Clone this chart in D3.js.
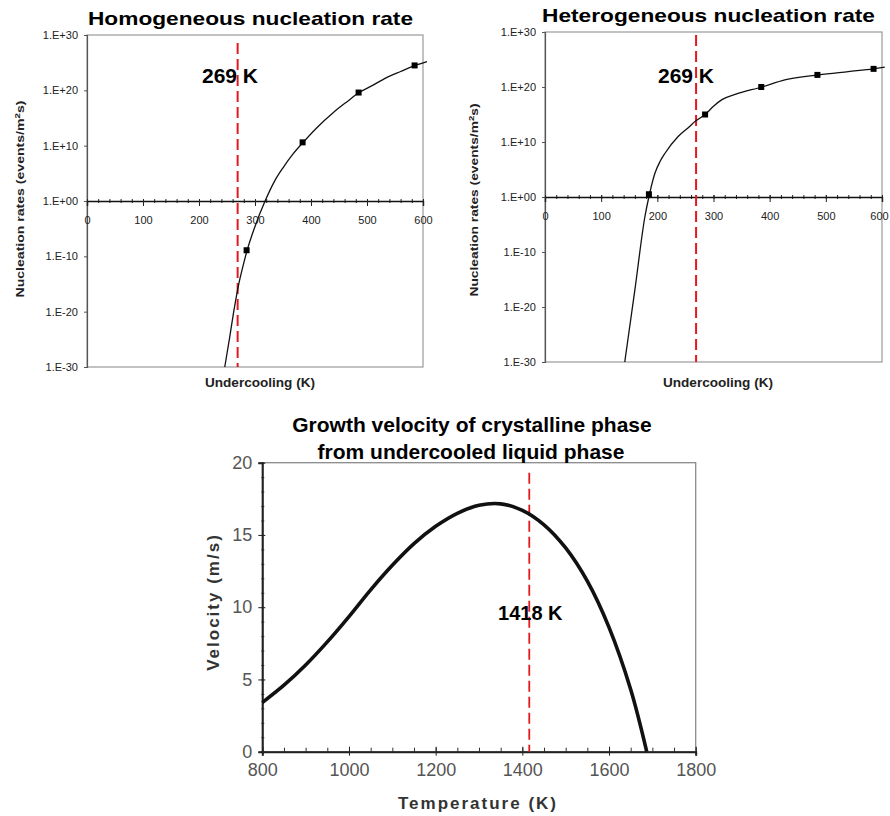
<!DOCTYPE html>
<html><head><meta charset="utf-8">
<script src="https://cdn.jsdelivr.net/npm/d3@7"></script>
<style>body{margin:0;background:#fff}svg{display:block}text{font-family:"Liberation Sans",Arial,sans-serif}</style>
</head><body><svg id="c" width="890" height="816"></svg>
<script>
// ---------- DATA ----------
const nucTickExps = [-30, -20, -10, 0, 10, 20, 30];
const nucTickLabels = ["1.E-30", "1.E-20", "1.E-10", "1.E+00", "1.E+10", "1.E+20", "1.E+30"];
const undercoolTicks = [0, 100, 200, 300, 400, 500, 600];
const markerUndercooling = 269;
const markerLabel = "269 K";

// homogeneous: undercooling (K), log10 rate
const homCurveX = [246, 255, 262, 270, 278, 286, 300, 318, 335, 350, 368, 386, 410, 440, 465, 486, 510, 535, 560, 586, 607];
const homCurveLog = [-30, -24.5, -20, -15.5, -12, -8.9, -4.6, 0, 3.6, 6, 8.5, 10.6, 13.2, 16, 18, 19.6, 20.9, 22.3, 23.4, 24.5, 25.2];
const homPointX = [285, 385, 485, 585];
const homPointLog = [-8.9, 10.6, 19.6, 24.5];

// heterogeneous
const hetCurveX = [142, 160, 178, 186, 196, 205, 214, 237, 255, 268, 285, 300, 315, 340, 386, 427, 487, 540, 585, 605];
const hetCurveLog = [-30, -16.9, -3.5, 0.5, 4.4, 6.5, 8, 11, 12.6, 13.8, 15, 16.5, 17.7, 18.7, 20, 21.3, 22.2, 22.8, 23.3, 23.6];
const hetPointX = [185, 285, 385, 485, 585];
const hetPointLog = [0.5, 15, 20, 22.2, 23.3];

// growth velocity
const tempValues = [800, 850, 900, 950, 1000, 1050, 1100, 1150, 1200, 1250, 1300, 1350, 1400, 1450, 1500, 1550, 1600, 1650, 1687];
const velValues = [3.4, 4.6, 6.0, 7.6, 9.35, 11.2, 12.9, 14.4, 15.6, 16.5, 17.05, 17.15, 16.7, 15.7, 14.1, 11.8, 8.6, 4.3, 0];
const tempTicks = [800, 1000, 1200, 1400, 1600, 1800];
const velTicks = [0, 5, 10, 15, 20];
const tempMarker = 1416;
const tempMarkerLabel = "1418 K";

// ---------- DRAW ----------
const svg = d3.select("#c");
svg.append("rect").attr("width", 890).attr("height", 816).attr("fill", "#fff");
const RED = "#e3191f";
const FF = '"Liberation Sans",Arial,sans-serif';

function nucChart(o) {
  const g = svg.append("g");
  const x = d3.scaleLinear().domain([0, 600]).range([o.x0, o.x1]);
  const y = d3.scaleLog().domain([1e-30, 1e30]).range([o.y1, o.y0]);
  g.append("rect").attr("x", o.x0).attr("y", o.y0).attr("width", o.x1 - o.x0).attr("height", o.y1 - o.y0)
    .attr("fill", "none").attr("stroke", "#9a9a9a").attr("stroke-width", 1.2);
  const ya = g.append("g").attr("transform", `translate(${o.x0},0)`)
    .call(d3.axisLeft(y).tickValues(nucTickExps.map(e => Math.pow(10, e)))
      .tickFormat((d, i) => nucTickLabels[i]).tickSize(3).tickPadding(6));
  ya.select(".domain").attr("stroke", "#555").attr("stroke-width", 1.2);
  ya.selectAll(".tick line").attr("stroke", "#555");
  ya.selectAll("text").attr("font-size", 11).attr("fill", "#222").attr("font-family", FF);
  const y0 = y(1);
  const xm = g.append("g").attr("transform", `translate(0,${y0})`)
    .call(d3.axisBottom(x).tickValues(d3.range(0, 601, 20)).tickFormat("").tickSize(2));
  xm.select(".domain").remove();
  xm.selectAll(".tick line").attr("y1", -2).attr("y2", 2).attr("stroke", "#222");
  const xa = g.append("g").attr("transform", `translate(0,${y0})`)
    .call(d3.axisBottom(x).tickValues(undercoolTicks).tickSize(5).tickPadding(10));
  xa.select(".domain").attr("stroke", "#111").attr("stroke-width", 1.4);
  xa.selectAll(".tick line").attr("y1", -2).attr("stroke", "#222");
  xa.selectAll("text").attr("font-size", 11).attr("fill", "#222").attr("font-family", FF);
  if (o.lastShift) xa.selectAll(".tick").filter(d => d === 600).select("text").attr("x", o.lastShift);
  g.append("line").attr("x1", x(markerUndercooling)).attr("x2", x(markerUndercooling))
    .attr("y1", o.dashTop).attr("y2", o.y1).attr("stroke", RED).attr("stroke-width", 2).attr("stroke-dasharray", "11,5");
  const line = d3.line().x(d => x(d[0])).y(d => y(Math.pow(10, d[1]))).curve(d3.curveMonotoneX);
  g.append("path").datum(o.cx.map((v, i) => [v, o.cl[i]])).attr("d", line)
    .attr("fill", "none").attr("stroke", "#111").attr("stroke-width", 1.3);
  g.selectAll("rect.pt").data(o.px.map((v, i) => [v, o.pl[i]])).enter().append("rect").attr("class", "pt")
    .attr("x", d => x(d[0]) - 3).attr("y", d => y(Math.pow(10, d[1])) - 3).attr("width", 6).attr("height", 6).attr("fill", "#000");
  g.append("text").attr("x", o.titleX).attr("y", o.titleY).attr("font-size", 19).attr("font-weight", "bold")
    .attr("textLength", o.titleLen).attr("lengthAdjust", "spacingAndGlyphs").text(o.title);
  g.append("text").attr("x", o.markX).attr("y", 83).attr("font-size", 21).attr("font-weight", "bold").text(markerLabel);
  g.append("text").attr("transform", `translate(${o.ylabX},${o.ylabY}) rotate(-90)`).attr("text-anchor", "middle")
    .attr("font-size", 11.5).attr("font-weight", "bold").attr("fill", "#222")
    .attr("textLength", o.ylabLen).attr("lengthAdjust", "spacingAndGlyphs")
    .html('Nucleation rates (events/m<tspan font-size="8" dy="-4">2</tspan><tspan dy="4">s)</tspan>');
  g.append("text").attr("x", o.xlabX).attr("y", 387).attr("text-anchor", "middle").attr("font-size", 12)
    .attr("font-weight", "bold").attr("fill", "#222").attr("textLength", 110).attr("lengthAdjust", "spacingAndGlyphs")
    .text("Undercooling (K)");
}

nucChart({ x0: 87, x1: 423, y0: 35, y1: 367, dashTop: 43, cx: homCurveX, cl: homCurveLog, px: homPointX, pl: homPointLog,
  title: "Homogeneous nucleation rate", titleX: 88, titleY: 25, titleLen: 325, markX: 202,
  ylabX: 24, ylabY: 199, ylabLen: 197, xlabX: 260 });
nucChart({ x0: 545, x1: 882, y0: 32, y1: 362, dashTop: 35, cx: hetCurveX, cl: hetCurveLog, px: hetPointX, pl: hetPointLog,
  title: "Heterogeneous nucleation rate", titleX: 542, titleY: 22, titleLen: 333, markX: 658,
  ylabX: 478, ylabY: 200, ylabLen: 193, xlabX: 718, lastShift: -3 });

(function () {
  const g = svg.append("g");
  const X0 = 262.3, X1 = 695.7, Y0 = 462.7, Y1 = 751.7;
  const x = d3.scaleLinear().domain([800, 1800]).range([X0, X1]);
  const y = d3.scaleLinear().domain([0, 20]).range([Y1, Y0]);
  g.append("rect").attr("x", X0).attr("y", Y0).attr("width", X1 - X0).attr("height", Y1 - Y0)
    .attr("fill", "none").attr("stroke", "#8a8a8a").attr("stroke-width", 1.3);
  const ym = g.append("g").attr("transform", `translate(${X0},0)`)
    .call(d3.axisLeft(y).tickValues(d3.range(0, 21, 1)).tickFormat("").tickSize(2));
  ym.select(".domain").remove();
  ym.selectAll(".tick line").attr("x1", 2).attr("x2", -1).attr("stroke", "#333");
  const xm = g.append("g").attr("transform", `translate(0,${Y1})`)
    .call(d3.axisBottom(x).tickValues(d3.range(800, 1801, 50)).tickFormat("").tickSize(4));
  xm.select(".domain").remove();
  xm.selectAll(".tick line").attr("y1", -4).attr("y2", 0).attr("stroke", "#333");
  const ya = g.append("g").attr("transform", `translate(${X0},0)`)
    .call(d3.axisLeft(y).tickValues(velTicks).tickFormat(d3.format("d")).tickSize(4).tickPadding(6));
  ya.select(".domain").attr("stroke", "#222").attr("stroke-width", 2);
  ya.selectAll(".tick line").attr("x1", 3).attr("stroke", "#222");
  ya.selectAll("text").attr("font-size", 18).attr("fill", "#555").attr("font-family", FF);
  const xa = g.append("g").attr("transform", `translate(0,${Y1})`)
    .call(d3.axisBottom(x).tickValues(tempTicks).tickFormat(d3.format("d")).tickSize(4).tickPadding(8));
  xa.select(".domain").attr("stroke", "#222").attr("stroke-width", 2);
  xa.selectAll(".tick line").attr("y1", -5).attr("stroke", "#222");
  xa.selectAll("text").attr("font-size", 18).attr("fill", "#555").attr("font-family", FF);
  g.append("line").attr("x1", x(tempMarker)).attr("x2", x(tempMarker)).attr("y1", 472.7).attr("y2", Y1)
    .attr("stroke", RED).attr("stroke-width", 1.8).attr("stroke-dasharray", "11,5");
  const line = d3.line().x(d => x(d[0])).y(d => y(d[1])).curve(d3.curveCatmullRom);
  g.append("path").datum(tempValues.map((t, i) => [t, velValues[i]])).attr("d", line)
    .attr("fill", "none").attr("stroke", "#111").attr("stroke-width", 3.6);
  g.append("text").attr("x", x(tempMarker) + 1).attr("y", 620).attr("text-anchor", "middle")
    .attr("font-size", 20).attr("font-weight", "bold").text(tempMarkerLabel);
  g.append("text").attr("x", 472).attr("y", 432).attr("text-anchor", "middle").attr("font-size", 21)
    .attr("font-weight", "bold").text("Growth velocity of crystalline phase");
  g.append("text").attr("x", 471).attr("y", 459).attr("text-anchor", "middle").attr("font-size", 21)
    .attr("font-weight", "bold").text("from undercooled liquid phase");
  g.append("text").attr("transform", `translate(219,602) rotate(-90)`).attr("text-anchor", "middle")
    .attr("font-size", 17).attr("font-weight", "bold").attr("fill", "#333").attr("letter-spacing", 2)
    .text("Velocity (m/s)");
  g.append("text").attr("x", 478).attr("y", 809).attr("text-anchor", "middle")
    .attr("font-size", 17).attr("font-weight", "bold").attr("fill", "#333").attr("letter-spacing", 2)
    .text("Temperature (K)");
})();
</script></body></html>
